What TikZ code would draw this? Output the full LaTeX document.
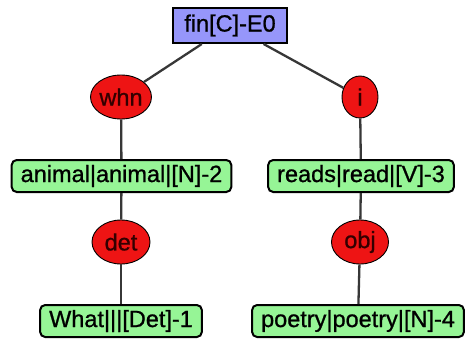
\documentclass[tikz,border=0pt]{standalone}
\usepackage{fontspec}
\setmainfont{Liberation Sans}
\newfontfamily\lblfont{Liberation Sans}[FakeBold=0.9]
\usetikzlibrary{shapes.geometric}
\definecolor{boxgreen}{RGB}{150,245,150}
\definecolor{boxblue}{RGB}{150,150,250}
\definecolor{ellred}{RGB}{238,20,20}
\definecolor{edgegray}{RGB}{55,55,55}
\tikzset{
  lbl/.style={font=\lblfont\fontsize{23.5}{26}\selectfont},
  wordbox/.style={lbl, draw=black, line width=2pt, rounded corners=5pt, fill=boxgreen,
    minimum height=32pt, inner xsep=9pt, inner ysep=0pt},
  rootbox/.style={lbl, draw=black, line width=2pt, fill=boxblue,
    minimum height=35pt, inner xsep=11pt, inner ysep=0pt},
  relell/.style={lbl, ellipse, draw=black, line width=0.9pt, fill=ellred, text=black!80!red,
    minimum width=58pt, minimum height=44pt, inner sep=0pt},
  edge/.style={draw=edgegray, line width=2.3pt}
}
\begin{document}
\begin{tikzpicture}[x=1pt,y=1pt]
\useasboundingbox (0,0) rectangle (465,-343);
\node[rootbox] (root) at (230,-25.5) {fin[C]-E0};
\node[relell] (whn) at (121,-97) {whn};
\node[relell, minimum width=36pt, minimum height=42pt] (i) at (360,-97) {i};
\node[wordbox] (animal) at (121.5,-176) {animal|animal|[N]-2};
\node[wordbox] (reads) at (361,-176) {reads|read|[V]-3};
\node[relell] (det) at (121,-242) {det};
\node[relell, minimum width=57pt] (obj) at (360,-242) {obj};
\node[wordbox] (what) at (121,-321) {What|||[Det]-1};
\node[wordbox] (poetry) at (358,-321) {poetry|poetry|[N]-4};
\draw[edge] (root) -- (whn);
\draw[edge] (root) -- (i);
\draw[edge] (whn) -- (animal);
\draw[edge] (animal) -- (det);
\draw[edge] (det) -- (what);
\draw[edge] (i) -- (reads);
\draw[edge] (reads) -- (obj);
\draw[edge] (obj) -- (poetry);
\end{tikzpicture}
\end{document}
